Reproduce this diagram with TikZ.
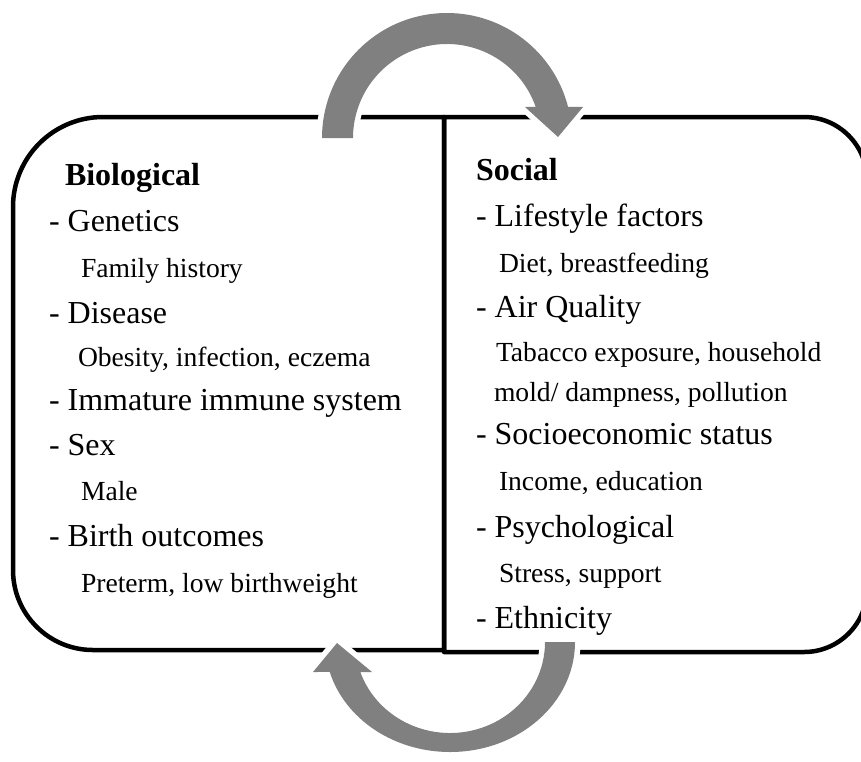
\documentclass[tikz,border=0pt]{standalone}
\usepackage{fontspec}
\setmainfont{Liberation Serif}

\begin{document}
\begin{tikzpicture}[x=1pt,y=-1pt,
 every node/.style={outer sep=0pt,inner sep=0pt,anchor=base west},
 panel/.style={draw,line width=4.5pt,line join=round},
 heading/.style={font=\fontsize{32}{38}\selectfont\bfseries},
 item/.style={font=\fontsize{32}{38}\selectfont},
 detail/.style={font=\fontsize{27.6}{33}\selectfont},
 swirl/.style={fill=gray,preaction={draw=white,line width=11pt,line join=miter}}]

  \useasboundingbox (0,0) rectangle (861,761);
  \clip (0,0) rectangle (861,761);

  % two panels, sharing the middle edge
  \draw[panel] (444,650) -- (93,650) arc[start angle=90,end angle=180,radius=80]
   -- (13,207) arc[start angle=180,end angle=270,radius=90] -- (444,117) -- cycle;
  \draw[panel] (444,117) -- (804,117) arc[start angle=270,end angle=360,radius=63]
   -- (867,589) arc[start angle=0,end angle=90,radius=63] -- (444,652) -- cycle;

  % curved arrows over the top and under the bottom
  \coordinate (up) at (447,138);
  \coordinate (dn) at (450,642);
  \path[swirl] ([shift={(180:125)}]up) arc[start angle=180,end angle=345.6,radius=125]
   -- (583,107) -- (558,137) -- (525,107)
   -- ([shift={(340.7:94)}]up) arc[start angle=340.7,end angle=180,radius=94] -- cycle;
  \path[swirl] ([shift={(0:125)}]dn) arc[start angle=0,end angle=164.2,x radius=125,y radius=110]
   -- (313,672) -- (337,643) -- (372,672)
   -- ([shift={(160.75:95 and 91)}]dn) arc[start angle=160.75,end angle=0,x radius=95,y radius=91]
   -- cycle;

  % left panel
  \node[heading] (bio) at (65,185) {Biological};
  \foreach \n/\y/\t in {1/231/Genetics,3/323/Disease,5/410/{Immature immune system},
   6/455/Sex,8/546/{Birth outcomes}}
   \node[item] (bio\n) at (49,\y) {- \t};
  \foreach \n/\x/\y/\t in {2/81/277/{Family history},4/78/366/{Obesity, infection, eczema},
   7/81/500/Male,9/81/592/{Preterm, low birthweight}}
   \node[detail] (bio\n) at (\x,\y) {\t};

  % right panel
  \node[heading] (soc) at (476,180) {Social};
  \foreach \n/\y/\t in {1/226/{Lifestyle factors},3/317/{Air Quality},
   6/444/{Socioeconomic status},8/537/Psychological,10/628/Ethnicity}
   \node[item] (soc\n) at (476,\y) {- \t};
  \foreach \n/\x/\y/\t in {2/499/272/{Diet, breastfeeding},4/496/361/{Tabacco exposure, household},
   5/494/401/{mold/ dampness, pollution},7/499/490/{Income, education},9/499/582/{Stress, support}}
   \node[detail] (soc\n) at (\x,\y) {\t};

\end{tikzpicture}
\end{document}
